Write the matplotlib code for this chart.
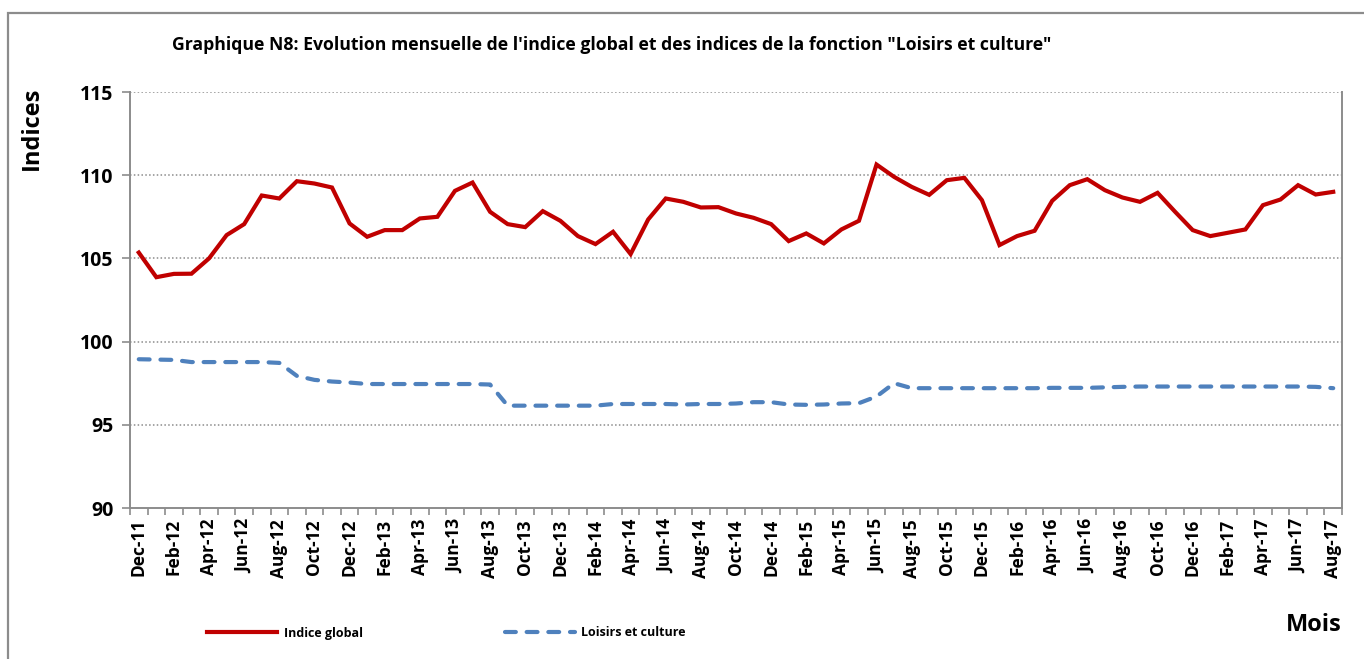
import numpy as np
import matplotlib
matplotlib.use("Agg")
import matplotlib.pyplot as plt
from matplotlib.patches import Rectangle

plt.rcParams["font.family"] = ["Open Sans", "DejaVu Sans"]
plt.rcParams["font.weight"] = "bold"

# ── data ──
months = ["Dec-11", "Jan-12", "Feb-12", "Mar-12", "Apr-12", "May-12", "Jun-12", "Jul-12",
          "Aug-12", "Sep-12", "Oct-12", "Nov-12", "Dec-12", "Jan-13", "Feb-13", "Mar-13",
          "Apr-13", "May-13", "Jun-13", "Jul-13", "Aug-13", "Sep-13", "Oct-13", "Nov-13",
          "Dec-13", "Jan-14", "Feb-14", "Mar-14", "Apr-14", "May-14", "Jun-14", "Jul-14",
          "Aug-14", "Sep-14", "Oct-14", "Nov-14", "Dec-14", "Jan-15", "Feb-15", "Mar-15",
          "Apr-15", "May-15", "Jun-15", "Jul-15", "Aug-15", "Sep-15", "Oct-15", "Nov-15",
          "Dec-15", "Jan-16", "Feb-16", "Mar-16", "Apr-16", "May-16", "Jun-16", "Jul-16",
          "Aug-16", "Sep-16", "Oct-16", "Nov-16", "Dec-16", "Jan-17", "Feb-17", "Mar-17",
          "Apr-17", "May-17", "Jun-17", "Jul-17", "Aug-17"]

indice_global = [105.35, 103.87, 104.07, 104.08, 105.00, 106.40, 107.06, 108.78,
                 108.60, 109.64, 109.50, 109.26, 107.10, 106.30, 106.70, 106.70,
                 107.40, 107.50, 109.06, 109.56, 107.80, 107.06, 106.88, 107.84,
                 107.26, 106.34, 105.86, 106.60, 105.26, 107.34, 108.60, 108.40,
                 108.06, 108.08, 107.70, 107.44, 107.06, 106.04, 106.50, 105.90,
                 106.74, 107.26, 110.64, 109.90, 109.30, 108.82, 109.70, 109.84,
                 108.50, 105.80, 106.34, 106.66, 108.46, 109.40, 109.76, 109.10,
                 108.66, 108.40, 108.94, 107.80, 106.70, 106.34, 106.54, 106.74,
                 108.20, 108.54, 109.40, 108.84, 109.00]

loisirs_culture = [98.94, 98.92, 98.90, 98.77, 98.77, 98.77, 98.77, 98.77,
                   98.72, 97.94, 97.70, 97.60, 97.54, 97.45, 97.45, 97.45,
                   97.45, 97.45, 97.45, 97.45, 97.42, 96.15, 96.15, 96.15,
                   96.15, 96.15, 96.15, 96.25, 96.25, 96.25, 96.25, 96.22,
                   96.25, 96.25, 96.28, 96.36, 96.36, 96.22, 96.20, 96.22,
                   96.28, 96.30, 96.70, 97.50, 97.20, 97.20, 97.20, 97.20,
                   97.20, 97.20, 97.20, 97.20, 97.22, 97.22, 97.22, 97.25,
                   97.28, 97.30, 97.30, 97.30, 97.30, 97.30, 97.30, 97.30,
                   97.30, 97.30, 97.30, 97.28, 97.20]

y_ticks = [90, 95, 100, 105, 110, 115]

# ── plot ──
fig = plt.figure(figsize=(13.64, 6.59), dpi=100)
fig.patches.append(Rectangle((8 / 1364, -0.1), 1.2, (659 - 13) / 659 + 0.1,
                             transform=fig.transFigure, fill=False,
                             edgecolor="#8c8c8c", linewidth=1.6, zorder=0))

ax = fig.add_axes([130 / 1364, (659 - 508) / 659, 1212 / 1364, 416 / 659])
x = np.arange(len(months))

ax.plot(x, indice_global, color="#C00000", lw=3.0, label="Indice global",
        solid_joinstyle="miter", zorder=3)
ax.plot(x, loisirs_culture, color="#4F81BD", lw=3.0, label="Loisirs et culture",
        dashes=(2.6, 2.6), dash_capstyle="round", zorder=3)

ax.set_xlim(-0.5, len(months) - 0.5)
ax.set_ylim(90, 115)
ax.set_yticks(y_ticks)
ax.set_yticklabels([str(v) for v in y_ticks], fontsize=14, fontweight="bold")
for v in y_ticks[1:]:
    ax.axhline(v, color="#8c8c8c", lw=1.1, ls=(0, (1, 1.5)), zorder=1)

# category boundaries as ticks, labels every two months
ax.set_xticks(np.arange(-0.5, len(months)), minor=True)
ax.set_xticks(x[::2])
ax.set_xticklabels(months[::2], rotation=90, fontsize=12.5, fontweight="bold")
ax.tick_params(axis="x", which="major", length=0, pad=8)
ax.tick_params(axis="x", which="minor", length=5, color="#8c8c8c", width=1.2)
ax.tick_params(axis="y", length=6, color="#8c8c8c", width=1.2, pad=6)

for s in ["left", "bottom", "right"]:
    ax.spines[s].set_color("#8c8c8c")
    ax.spines[s].set_linewidth(1.4)
ax.spines["top"].set_visible(False)

fig.text(172 / 1364, 1 - 45 / 659, "Graphique N8: Evolution mensuelle de l'indice global et des indices "
         "de la fonction \"Loisirs et culture\"", fontsize=12.7, fontweight="bold", va="center")
fig.text(32 / 1364, 1 - 128 / 659, "Indices", rotation=90, fontsize=17, fontweight="bold",
         ha="center", va="center")
fig.text(1342 / 1364, 1 - 625 / 659, "Mois", fontsize=17, fontweight="bold",
         ha="right", va="center")

fig.legend(loc="center left", bbox_to_anchor=(196 / 1364, 1 - 633 / 659), ncol=2,
           frameon=False, handlelength=5.6, handletextpad=0.5,
           columnspacing=11.4, prop={"weight": "bold", "size": 9})

fig.savefig("out.png", dpi=100)
